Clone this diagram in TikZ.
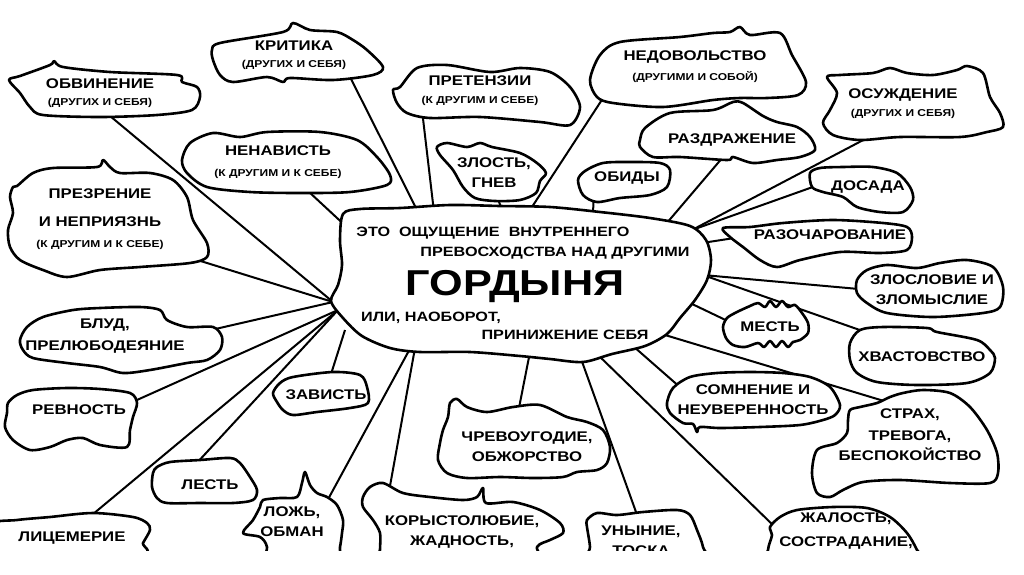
\documentclass[tikz,border=0pt]{standalone}
\usepackage{fontspec}
\setmainfont{Liberation Sans}[FakeStretch=1.2]

\pgfdeclarelayer{links}
\pgfdeclarelayer{clouds}
\pgfsetlayers{links,clouds,main}

\tikzset{
  cloud/.style={draw=black, fill=white, line width=2.6pt, line join=round},
  link/.style={draw=black, line width=2pt},
  lbl/.style={font=\fontsize{14}{20}\selectfont\bfseries, align=center, inner sep=0pt},
  core/.style={font=\fontsize{13.5}{16}\selectfont\bfseries, inner sep=0pt},
}
\newcommand{\subline}[1]{{\fontsize{10}{12}\selectfont #1}}

\begin{document}
\begin{tikzpicture}[x=1pt, y=-1pt]
  % Page
  \useasboundingbox (0,0) rectangle (1024,574);

  % Centre
  \node[core] (def1) at (493,233) {ЭТО\ \ ОЩУЩЕНИЕ\ \ ВНУТРЕННЕГО};
  \node[core] (def2) at (555,253) {ПРЕВОСХОДСТВА НАД ДРУГИМИ};
  \node[font=\fontsize{36}{40}\selectfont\bfseries, inner sep=0pt] (pride) at (515,287) {ГОРДЫНЯ};
  \node[core] (alt1) at (431,318) {ИЛИ, НАОБОРОТ,};
  \node[core] (alt2) at (565,335) {ПРИНИЖЕНИЕ СЕБЯ};

  % Points on the centre cloud
  \coordinate (hubW) at (333,302);
  \coordinate (hubSW) at (338,310);
  \coordinate (hubZ) at (345,330);
  \coordinate (hubS1) at (412,345);
  \coordinate (hubS2) at (415,348);
  \coordinate (hubS3) at (530,352);
  \coordinate (hubS4) at (580,356);
  \coordinate (hubS5) at (597,354);
  \coordinate (hubSE1) at (633,346);
  \coordinate (hubSE2) at (665,335);
  \coordinate (hubE1) at (703,275);
  \coordinate (hubE2) at (690,303);
  \coordinate (hubE3) at (702,243);
  \coordinate (hubNE1) at (692,230);
  \coordinate (hubNE2) at (666,224);
  \coordinate (hubN1) at (593,215);
  \coordinate (hubN2) at (530,210);
  \coordinate (hubN3) at (502,210);
  \coordinate (hubN4) at (434,212);
  \coordinate (hubN5) at (418,212);
  \coordinate (hubNW) at (350,230);

  % Labels
  \node[lbl] (obv) at (100,93) {ОБВИНЕНИЕ\\[-3pt]\subline{(ДРУГИХ И СЕБЯ)}};
  \node[lbl] (krit) at (294,55) {КРИТИКА\\[-3pt]\subline{(ДРУГИХ И СЕБЯ)}};
  \node[lbl] (pret) at (480,91) {ПРЕТЕНЗИИ\\[-2pt]\subline{(К ДРУГИМ И СЕБЕ)}};
  \node[lbl] (nenav) at (278,162) {НЕНАВИСТЬ\\[1pt]\subline{(К ДРУГИМ И К СЕБЕ)}};
  \node[lbl] (nedov) at (695,67) {НЕДОВОЛЬСТВО\\\subline{(ДРУГИМИ И СОБОЙ)}};
  \node[lbl] (osuzh) at (903,104) {ОСУЖДЕНИЕ\\[-2pt]\subline{(ДРУГИХ И СЕБЯ)}};
  \node[lbl] (razdr) at (732,140) {РАЗДРАЖЕНИЕ};
  \node[lbl] (obid) at (627,178) {ОБИДЫ};
  \node[lbl] (zlost) at (494,173) {ЗЛОСТЬ,\\ГНЕВ};
  \node[lbl] (dosada) at (868,187) {ДОСАДА};
  \node[lbl] (razoch) at (830,235) {РАЗОЧАРОВАНИЕ};
  \node[lbl] (zlosl) at (932,290) {ЗЛОСЛОВИЕ И\\ЗЛОМЫСЛИЕ};
  \node[lbl] (mest) at (770,327) {МЕСТЬ};
  \node[lbl] (hvast) at (922,357) {ХВАСТОВСТВО};
  \node[lbl] (som) at (753,400) {СОМНЕНИЕ И\\НЕУВЕРЕННОСТЬ};
  \node[lbl] (strah) at (910,435) {СТРАХ,\\[2pt]ТРЕВОГА,\\БЕСПОКОЙСТВО};
  \node[lbl] (zhal) at (846,531) {ЖАЛОСТЬ,\\[4pt]СОСТРАДАНИЕ,};
  \node[lbl] (uny) at (641,541) {УНЫНИЕ,\\ТОСКА};
  \node[lbl] (chrev) at (527,447) {ЧРЕВОУГОДИЕ,\\ОБЖОРСТВО};
  \node[lbl] (kor) at (462,532) {КОРЫСТОЛЮБИЕ,\\ЖАДНОСТЬ,};
  \node[lbl] (loz) at (292,522) {ЛОЖЬ,\\ОБМАН};
  \node[lbl] (zav) at (326,395) {ЗАВИСТЬ};
  \node[lbl] (lest) at (210,485) {ЛЕСТЬ};
  \node[lbl] (lic) at (72,538) {ЛИЦЕМЕРИЕ};
  \node[lbl] (rev) at (79,410) {РЕВНОСТЬ};
  \node[lbl] (blud) at (105,336) {БЛУД,\\[2pt]ПРЕЛЮБОДЕЯНИЕ};
  \node[lbl] (prez) at (100,219) {ПРЕЗРЕНИЕ\\[8pt]И НЕПРИЯЗНЬ\\[1pt]\subline{(К ДРУГИМ И К СЕБЕ)}};

  % Clouds
  \begin{pgfonlayer}{clouds}
    \draw[cloud] plot[smooth cycle] coordinates {(343,214) (360,209) (400,208) (450,205) (500,206) (550,207) (600,212) (650,218) (690,226) (706,240) (711,260) (707,280) (695,300) (680,318) (667,334) (645,346) (612,354) (583,362) (550,359) (520,356) (470,352) (420,352) (390,348) (362,336) (343,318) (331,301) (338,285) (342,265) (340,240)};
    \draw[cloud] plot[smooth cycle] coordinates {(9,80) (20,76) (50,65) (54,61) (63,67) (110,72) (177,75) (182,82) (197,87) (200,97) (192,110) (157,115) (100,117) (43,115) (30,107) (20,93)};
    \draw[cloud] plot[smooth cycle] coordinates {(212,50) (220,43) (283,32) (293,23) (310,30) (337,32) (353,40) (367,50) (383,67) (373,75) (333,80) (290,78) (283,82) (267,77) (233,82) (220,75) (213,60)};
    \draw[cloud] plot[smooth cycle] coordinates {(393,90) (400,87) (417,68) (447,65) (490,72) (520,68) (550,72) (570,87) (580,107) (570,125) (540,122) (480,117) (430,118) (407,113) (397,103)};
    \draw[cloud] plot[smooth cycle] coordinates {(182,160) (190,143) (213,133) (240,137) (267,132) (320,132) (357,140) (377,157) (390,175) (387,185) (350,192) (300,193) (250,192) (207,187) (187,173)};
    \draw[cloud] plot[smooth cycle] coordinates {(590,80) (600,55) (620,42) (680,37) (713,33) (730,32) (740,27) (750,35) (780,33) (792,55) (806,82) (798,95) (767,98) (740,98) (713,100) (663,107) (613,103) (597,97)};
    \draw[cloud] plot[smooth cycle] coordinates {(640,140) (645,128) (670,113) (713,110) (733,102) (743,103) (763,116) (777,122) (797,127) (810,137) (815,150) (800,157) (777,160) (753,163) (733,157) (727,160) (680,157) (653,157) (640,147)};
    \draw[cloud] plot[smooth cycle] coordinates {(578,180) (585,171) (603,163) (630,162) (660,163) (670,170) (667,187) (650,195) (620,198) (597,202) (583,195)};
    \draw[cloud] plot[smooth cycle] coordinates {(437,147) (447,143) (467,147) (480,143) (492,147) (520,153) (537,163) (546,173) (540,181) (536,193) (520,200) (495,201) (475,198) (463,187) (453,170) (440,155)};
    \draw[cloud] plot[smooth cycle] coordinates {(827,77) (840,75) (873,73) (890,68) (907,73) (933,75) (957,70) (967,66) (983,73) (990,97) (1000,113) (1003,127) (987,132) (960,137) (900,137) (860,140) (833,135) (823,123) (830,110) (837,93)};
    \draw[cloud] plot[smooth cycle] coordinates {(810,173) (820,168) (843,167) (873,167) (897,173) (910,187) (913,200) (903,212) (880,212) (857,207) (843,197) (823,192) (812,187)};
    \draw[cloud] plot[smooth cycle] coordinates {(723,228) (750,227) (783,223) (833,220) (883,223) (907,227) (912,237) (907,250) (880,253) (840,252) (800,260) (777,267) (760,260) (743,247) (730,237)};
    \draw[cloud] plot[smooth cycle] coordinates {(857,280) (867,270) (887,265) (917,268) (940,263) (967,260) (993,267) (1003,287) (1000,307) (983,313) (933,317) (887,313) (867,303) (857,293)};
    \draw[cloud] plot[smooth cycle] coordinates {(850,343) (860,330) (883,327) (927,328) (937,332) (977,340) (990,350) (995,358) (990,373) (967,383) (917,385) (877,382) (857,373) (850,360)};
    \draw[cloud] plot[smooth cycle] coordinates {(723,327) (727,318) (737,312) (750,306) (758,303) (765,307) (770,301) (776,307) (782,301) (788,307) (795,305) (802,313) (808,323) (808,333) (800,340) (793,342) (788,347) (782,341) (776,347) (770,341) (764,347) (758,343) (745,347) (733,345) (726,338)};
    \draw[cloud] plot[smooth cycle] coordinates {(667,403) (673,388) (690,377) (717,373) (750,372) (783,373) (810,377) (830,387) (840,405) (835,415) (823,420) (800,425) (760,427) (720,428) (700,427) (697,432) (693,424) (683,423) (670,413)};
    \draw[cloud] plot[smooth cycle] coordinates {(850,410) (860,407) (877,403) (890,397) (903,393) (923,390) (950,393) (970,407) (987,430) (997,453) (998,473) (990,483) (950,483) (900,480) (863,482) (843,490) (830,497) (817,493) (812,473) (817,450) (837,443) (847,433) (848,420)};
    \draw[cloud] plot[smooth cycle] coordinates {(770,527) (780,517) (797,510) (833,507) (867,508) (890,517) (907,533) (917,550) (925,570) (770,570) (768,550) (772,535)};
    \draw[cloud] plot[smooth cycle] coordinates {(587,520) (597,513) (617,515) (643,512) (677,510) (690,515) (697,530) (703,547) (705,570) (590,570) (590,547) (587,527)};
    \draw[cloud] plot[smooth cycle] coordinates {(450,403) (457,399) (467,407) (487,412) (513,407) (540,405) (567,417) (587,422) (603,430) (610,447) (607,463) (597,470) (577,472) (563,477) (533,478) (500,477) (467,478) (447,473) (438,460) (440,443) (443,430) (448,417)};
    \draw[cloud] plot[smooth cycle] coordinates {(363,497) (370,487) (383,483) (403,493) (430,497) (463,500) (477,497) (483,488) (486,503) (513,502) (540,510) (560,523) (563,533) (550,540) (537,547) (533,570) (380,570) (380,550) (380,533) (373,520) (363,507)};
    \draw[cloud] plot[smooth cycle] coordinates {(263,500) (280,498) (297,497) (302,483) (305,472) (310,485) (317,493) (327,497) (337,505) (343,520) (342,533) (340,547) (335,570) (267,570) (267,547) (260,537) (243,533) (253,520) (260,507)};
    \draw[cloud] plot[smooth cycle] coordinates {(273,393) (280,383) (293,377) (333,372) (360,375) (367,387) (368,403) (350,408) (317,412) (293,415) (283,410) (277,402)};
    \draw[cloud] plot[smooth cycle] coordinates {(7,413) (8,403) (17,395) (33,390) (67,388) (100,389) (130,393) (137,403) (133,417) (130,430) (127,447) (100,445) (83,438) (67,440) (50,447) (30,450) (13,440) (5,427)};
    \draw[cloud] plot[smooth cycle] coordinates {(153,473) (157,467) (170,462) (200,460) (230,458) (240,463) (250,477) (257,490) (253,500) (233,503) (200,503) (167,503) (157,498) (152,487)};
    \draw[cloud] plot[smooth cycle] coordinates {(-10,525) (17,520) (50,517) (93,513) (133,517) (147,523) (150,530) (143,543) (137,555) (-10,560)};
    \draw[cloud] plot[smooth cycle] coordinates {(20,340) (27,327) (43,317) (73,310) (100,308) (140,307) (160,310) (167,320) (187,327) (213,327) (222,337) (220,350) (207,360) (187,363) (150,370) (123,373) (100,367) (67,363) (33,358) (23,350)};
    \draw[cloud] plot[smooth cycle] coordinates {(13,187) (17,186) (33,173) (53,168) (97,167) (103,160) (110,167) (120,173) (150,173) (173,180) (187,197) (193,220) (207,243) (207,257) (190,263) (140,267) (100,270) (67,277) (43,270) (20,260) (10,247) (8,230) (13,213) (10,197)};
  \end{pgfonlayer}

  % Links
  \begin{pgfonlayer}{links}
    \draw[link] (hubW) -- (obv.south);
    \draw[link] (hubW) -- (prez.south east);
    \draw[link] (hubW) -- (blud.east);
    \draw[link] (hubSW) -- (rev.north east);
    \draw[link] (hubSW) -- (lest.north west);
    \draw[link] (hubSW) -- (lic.north);
    \draw[link] (hubZ) -- (zav.north);
    \draw[link] (hubS1) -- (loz.north east);
    \draw[link] (hubS2) -- (kor.north west);
    \draw[link] (hubS3) -- (chrev.130);
    \draw[link] (hubS4) -- (uny.north);
    \draw[link] (hubS5) -- (zhal.west);
    \draw[link] (hubSE1) -- (som.north west);
    \draw[link] (hubSE2) -- (strah.north);
    \draw[link] (hubE1) -- (hvast.north);
    \draw[link] (hubE1) -- (zlosl.west);
    \draw[link] (hubE2) -- (mest.west);
    \draw[link] (hubE3) -- (razoch.west);
    \draw[link] (hubNE1) -- (dosada.north west);
    \draw[link] (hubNE1) -- (osuzh.south);
    \draw[link] (hubNE2) -- (razdr.south);
    \draw[link] (hubN1) -- (obid.south west);
    \draw[link] (hubN2) -- (nedov.west);
    \draw[link] (hubN3) -- (zlost.south);
    \draw[link] (hubN4) -- (pret.south west);
    \draw[link] (hubN5) -- (krit.south east);
    \draw[link] (hubNW) -- (nenav.-45);
  \end{pgfonlayer}

  % Cut-off strip at the bottom
  \fill[white] (0,551) rectangle (1024,575);
\end{tikzpicture}
\end{document}
